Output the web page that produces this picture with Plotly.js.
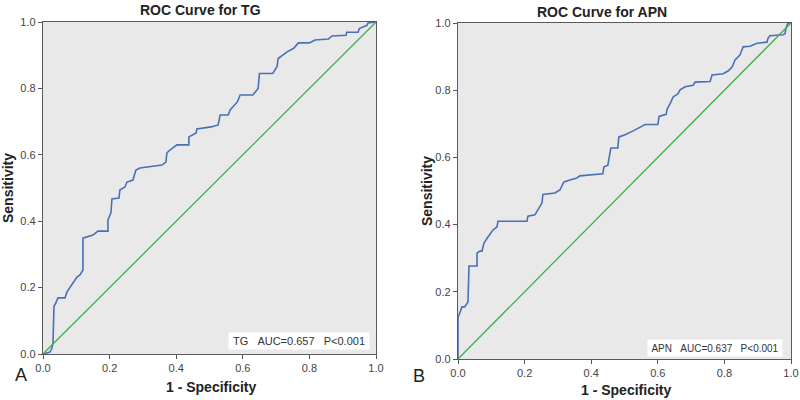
<!DOCTYPE html>
<html>
<head>
<meta charset="utf-8">
<script src="https://cdn.plot.ly/plotly-3.0.1.min.js"></script>
<style>
  html, body { margin: 0; padding: 0; background: #fff; }
  #chart { width: 800px; height: 400px; }
</style>
</head>
<body>
<div id="chart"></div>
<script>
// ROC curve for TG (1 - specificity, sensitivity)
const tgFpr = [0, 0.021, 0.027, 0.03, 0.033, 0.036, 0.045, 0.066, 0.072, 0.081, 0.09, 0.102, 0.111, 0.12, 0.12,
    0.15, 0.165, 0.195, 0.195, 0.204, 0.207, 0.228, 0.231, 0.246, 0.252, 0.27, 0.279, 0.291, 0.312, 0.357,
    0.369, 0.372, 0.376, 0.393, 0.402, 0.438, 0.438, 0.46, 0.462, 0.505, 0.526, 0.532, 0.556, 0.562, 0.571,
    0.584, 0.592, 0.63, 0.646, 0.65, 0.69, 0.703, 0.706, 0.733, 0.752, 0.767, 0.8, 0.817, 0.857, 0.868,
    0.91, 0.912, 0.946, 0.95, 0.973, 0.976, 1];
const tgTpr = [0, 0.006, 0.018, 0.033, 0.145, 0.148, 0.169, 0.169, 0.187, 0.199, 0.214, 0.232, 0.238, 0.253, 0.349,
    0.358, 0.37, 0.37, 0.404, 0.425, 0.467, 0.47, 0.494, 0.503, 0.518, 0.524, 0.554, 0.56, 0.563, 0.569,
    0.578, 0.605, 0.61, 0.624, 0.63, 0.63, 0.654, 0.666, 0.678, 0.684, 0.69, 0.72, 0.72, 0.735, 0.745,
    0.76, 0.78, 0.78, 0.80, 0.845, 0.845, 0.866, 0.89, 0.91, 0.92, 0.937, 0.937, 0.946, 0.949, 0.958,
    0.96, 0.969, 0.969, 0.98, 0.99, 0.997, 1];

// ROC curve for APN
const apnFpr = [0, 0, 0.003, 0.012, 0.02, 0.027, 0.03, 0.033, 0.057, 0.057, 0.066, 0.072, 0.075, 0.078, 0.09,
    0.105, 0.117, 0.12, 0.207, 0.21, 0.231, 0.246, 0.252, 0.255, 0.291, 0.306, 0.318, 0.336, 0.357, 0.366,
    0.402, 0.435, 0.438, 0.45, 0.459, 0.48, 0.483, 0.5, 0.526, 0.547, 0.562, 0.6, 0.604, 0.625, 0.628,
    0.637, 0.646, 0.66, 0.667, 0.682, 0.706, 0.712, 0.757, 0.763, 0.796, 0.811, 0.823, 0.832, 0.847, 0.856,
    0.877, 0.898, 0.928, 0.931, 0.937, 0.976, 0.982, 0.985, 0.991, 1];
const apnTpr = [0, 0.125, 0.131, 0.155, 0.155, 0.164, 0.17, 0.277, 0.277, 0.315, 0.321, 0.321, 0.33, 0.345, 0.363,
    0.384, 0.393, 0.41, 0.41, 0.425, 0.429, 0.452, 0.464, 0.49, 0.494, 0.503, 0.527, 0.533, 0.539, 0.545,
    0.548, 0.551, 0.571, 0.577, 0.628, 0.628, 0.661, 0.667, 0.679, 0.69, 0.698, 0.698, 0.722, 0.728, 0.744,
    0.76, 0.78, 0.789, 0.801, 0.81, 0.815, 0.824, 0.826, 0.845, 0.849, 0.857, 0.869, 0.89, 0.905, 0.929,
    0.931, 0.94, 0.943, 0.955, 0.962, 0.965, 0.968, 0.985, 1.0, 1];

const refLine = [0, 1];
const tickVals = [0, 0.2, 0.4, 0.6, 0.8, 1.0];
const tickText = ["0.0", "0.2", "0.4", "0.6", "0.8", "1.0"];

const blue = "#4a70b6";
const green = "#3db04a";

const traces = [
    { x: tgFpr, y: tgTpr, xaxis: "x", yaxis: "y", mode: "lines", line: { color: blue, width: 1.6 } },
    { x: refLine, y: refLine, xaxis: "x", yaxis: "y", mode: "lines", line: { color: green, width: 1.3 } },
    { x: apnFpr, y: apnTpr, xaxis: "x2", yaxis: "y2", mode: "lines", line: { color: blue, width: 1.6 } },
    { x: refLine, y: refLine, xaxis: "x2", yaxis: "y2", mode: "lines", line: { color: green, width: 1.3 } }
];

function axis(domain, anchor) {
    return {
        domain: domain,
        anchor: anchor,
        range: [0, 1],
        tickvals: tickVals,
        ticktext: tickText,
        ticks: "outside",
        ticklen: 4,
        tickcolor: "#555",
        tickfont: { size: 11, color: "#444" },
        showline: true,
        linecolor: "#5a5a5a",
        linewidth: 1.2,
        mirror: true,
        showgrid: false,
        zeroline: false,
        fixedrange: true
    };
}

const boldFont = { family: "Liberation Sans, Arial, sans-serif", size: 14, color: "#222" };

const annotations = [
    // panel titles
    { text: "<b>ROC Curve for TG</b>", x: 200 / 800, y: 1 - 10 / 400 },
    { text: "<b>ROC Curve for APN</b>", x: 602 / 800, y: 1 - 12 / 400 },
    // x titles
    { text: "<b>1 - Specificity</b>", x: 211 / 800, y: 1 - 387 / 400 },
    { text: "<b>1 - Specificity</b>", x: 626 / 800, y: 1 - 390 / 400 },
    // y titles
    { text: "<b>Sensitivity</b>", x: 8 / 800, y: 1 - 188 / 400, textangle: -90 },
    { text: "<b>Sensitivity</b>", x: 427 / 800, y: 1 - 191 / 400, textangle: -90 }
].map(a => Object.assign({ xref: "paper", yref: "paper", showarrow: false,
    xanchor: "center", yanchor: "middle", font: boldFont }, a));

// panel letters
annotations.push(
    { text: "A", x: 13 / 800, y: 1 - 387 / 400, xref: "paper", yref: "paper", showarrow: false,
      font: { family: "Liberation Sans, Arial", size: 18, color: "#222" } },
    { text: "B", x: 419 / 800, y: 1 - 388 / 400, xref: "paper", yref: "paper", showarrow: false,
      font: { family: "Liberation Sans, Arial", size: 18, color: "#222" } }
);

// AUC boxes
const gap = "\u00a0\u00a0\u00a0";
annotations.push(
    { text: "TG" + gap + "AUC=0.657" + gap + "P<0.001", x: 370 / 800, y: 1 - 340.5 / 400, xref: "paper", yref: "paper",
      xanchor: "right", yanchor: "middle", width: 138, height: 14, align: "center",
      showarrow: false, bgcolor: "#ffffff", borderpad: 1,
      font: { family: "Liberation Sans, Arial", size: 11, color: "#333" } },
    { text: "APN" + gap + "AUC=0.637" + gap + "P<0.001", x: 783 / 800, y: 1 - 347.5 / 400, xref: "paper", yref: "paper",
      xanchor: "right", yanchor: "middle", width: 132, height: 14, align: "center",
      showarrow: false, bgcolor: "#ffffff", borderpad: 1,
      font: { family: "Liberation Sans, Arial", size: 10, color: "#333" } }
);

const layout = {
    width: 800,
    height: 400,
    margin: { l: 0, r: 0, t: 0, b: 0 },
    paper_bgcolor: "#ffffff",
    plot_bgcolor: "#e9e9ea",
    showlegend: false,
    font: { family: "Liberation Sans, Arial, sans-serif" },
    xaxis: axis([43 / 800, 376 / 800], "y"),
    yaxis: axis([1 - 354 / 400, 1 - 22 / 400], "x"),
    xaxis2: axis([458 / 800, 791 / 800], "y2"),
    yaxis2: axis([1 - 359 / 400, 1 - 23 / 400], "x2"),
    annotations: annotations
};

Plotly.newPlot("chart", traces, layout, { staticPlot: true });
</script>
</body>
</html>
